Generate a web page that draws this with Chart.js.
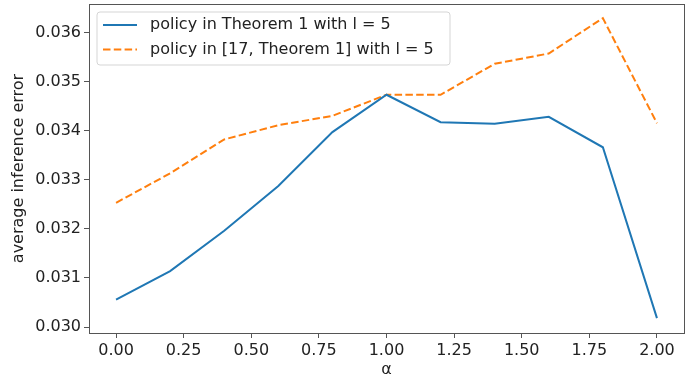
<!DOCTYPE html>
<html>
<head>
<meta charset="utf-8">
<script src="https://cdn.jsdelivr.net/npm/chart.js@4/dist/chart.umd.min.js"></script>
<style>
  html, body { margin: 0; padding: 0; background: #fff; }
  #wrap { width: 697px; height: 380px; }
</style>
</head>
<body>
<div id="wrap"><canvas id="chart"></canvas></div>
<script>
// values
const alphas = [0, 0.2, 0.4, 0.6, 0.8, 1.0, 1.2, 1.4, 1.6, 1.8, 2.0];
const policyOurs = [0.03056, 0.03114, 0.03196, 0.03287, 0.03397, 0.03473,
  0.03417, 0.03414, 0.03428, 0.03366, 0.03018];
const policyRef = [0.03253, 0.03313, 0.03382, 0.03411, 0.0343, 0.03473,
  0.03473, 0.03536, 0.03557, 0.03629, 0.03415];
const xTicks = [0, 0.25, 0.5, 0.75, 1.0, 1.25, 1.5, 1.75, 2.0];
const yTicks = [0.030, 0.031, 0.032, 0.033, 0.034, 0.035, 0.036];
const seriesLabels = [
  "policy in Theorem 1 with l = 5",
  "policy in [17, Theorem 1] with l = 5",
];

const FONT = "'DejaVu Sans', sans-serif";
const TEXT = "#222";
const SPINE = "#555";

function toPoints(values) {
  return alphas.map((a, i) => ({ x: a, y: values[i] }));
}

// frame on all four sides + legend box in upper-left corner
const framePlugin = {
  id: "frame",
  afterDatasetsDraw(chart) {
    const { ctx, chartArea: a } = chart;
    ctx.save();
    ctx.strokeStyle = SPINE;
    ctx.lineWidth = 1;
    ctx.strokeRect(a.left + 0.5, a.top + 0.5, a.right - a.left, a.bottom - a.top);

    // legend
    const x0 = a.left + 8, y0 = a.top + 8, w = 353, h = 53, r = 3;
    ctx.beginPath();
    ctx.moveTo(x0 + r, y0);
    ctx.arcTo(x0 + w, y0, x0 + w, y0 + h, r);
    ctx.arcTo(x0 + w, y0 + h, x0, y0 + h, r);
    ctx.arcTo(x0, y0 + h, x0, y0, r);
    ctx.arcTo(x0, y0, x0 + w, y0, r);
    ctx.closePath();
    ctx.fillStyle = "rgba(255,255,255,0.8)";
    ctx.fill();
    ctx.strokeStyle = "#d5d5d5";
    ctx.stroke();

    ctx.font = "16px " + FONT;
    ctx.textBaseline = "middle";
    ctx.textAlign = "left";
    chart.data.datasets.forEach((ds, i) => {
      const ly = y0 + 13 + i * 24.5;
      ctx.beginPath();
      ctx.setLineDash(ds.borderDash || []);
      ctx.strokeStyle = ds.borderColor;
      ctx.lineWidth = ds.borderWidth;
      ctx.moveTo(x0 + 6, ly);
      ctx.lineTo(x0 + 40, ly);
      ctx.stroke();
      ctx.setLineDash([]);
      ctx.fillStyle = TEXT;
      ctx.fillText(ds.label, x0 + 53, ly);
    });
    ctx.restore();
  },
};

function noEdgePadding(scale) {
  scale.paddingTop = 0;
  scale.paddingBottom = 0;
  scale.paddingLeft = 0;
  scale.paddingRight = 0;
}

new Chart(document.getElementById("chart"), {
  type: "line",
  data: {
    datasets: [
      {
        label: seriesLabels[0],
        data: toPoints(policyOurs),
        borderColor: "#1f77b4",
        borderWidth: 2,
        pointRadius: 0,
        tension: 0,
        fill: false,
      },
      {
        label: seriesLabels[1],
        data: toPoints(policyRef),
        borderColor: "#ff7f0e",
        borderWidth: 2,
        borderDash: [7.5, 3.3],
        pointRadius: 0,
        tension: 0,
        fill: false,
      },
    ],
  },
  options: {
    responsive: true,
    maintainAspectRatio: false,
    animation: false,
    layout: { padding: { top: 4, right: 13, bottom: 0, left: 0 } },
    plugins: {
      legend: { display: false },
      tooltip: { enabled: false },
    },
    scales: {
      x: {
        type: "linear",
        min: -0.1,
        max: 2.1,
        afterBuildTicks: (scale) => {
          scale.ticks = xTicks.map((v) => ({ value: v }));
        },
        afterFit: (scale) => {
          scale.height = 47;
          noEdgePadding(scale);
        },
        grid: {
          drawOnChartArea: false,
          drawTicks: true,
          tickLength: 5,
          color: SPINE,
        },
        border: { color: SPINE },
        ticks: {
          color: TEXT,
          font: { family: FONT, size: 16 },
          padding: 3,
          maxRotation: 0,
          autoSkip: false,
          callback: (v) => Number(v).toFixed(2),
        },
        title: {
          display: true,
          text: "α",
          color: TEXT,
          font: { family: FONT, size: 16 },
          padding: { top: 0, bottom: 1 },
        },
      },
      y: {
        type: "linear",
        min: 0.029878,
        max: 0.036578,
        afterBuildTicks: (scale) => {
          scale.ticks = yTicks.map((v) => ({ value: v }));
        },
        afterFit: (scale) => {
          scale.width = 89;
          noEdgePadding(scale);
        },
        grid: {
          drawOnChartArea: false,
          drawTicks: true,
          tickLength: 5,
          color: SPINE,
        },
        border: { color: SPINE },
        ticks: {
          color: TEXT,
          font: { family: FONT, size: 16 },
          padding: 3,
          autoSkip: false,
          callback: (v) => Number(v).toFixed(3),
        },
        title: {
          display: true,
          text: "average inference error",
          color: TEXT,
          font: { family: FONT, size: 16 },
          padding: { top: 9, bottom: 0 },
        },
      },
    },
  },
  plugins: [framePlugin],
});
</script>
</body>
</html>
